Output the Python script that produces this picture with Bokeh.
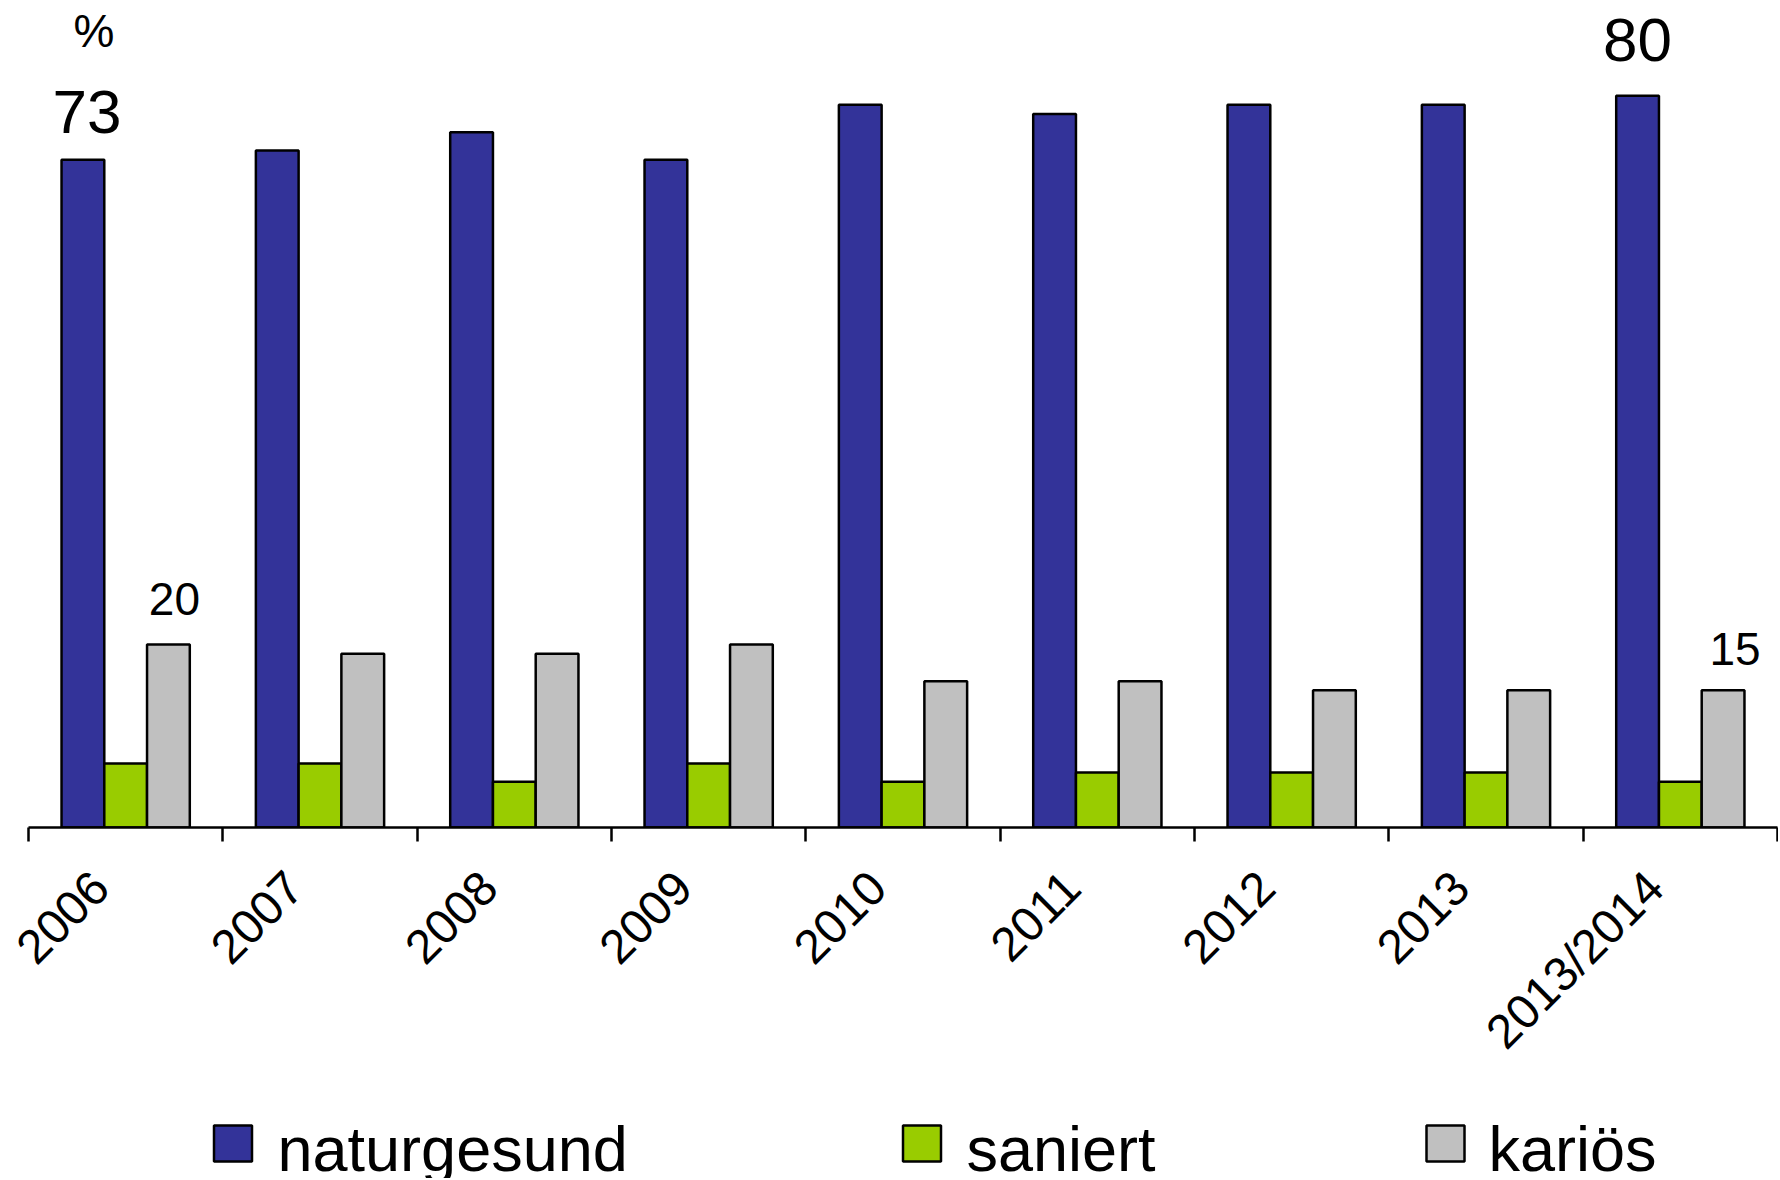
import math
from bokeh.plotting import figure
from bokeh.models import Range1d, LinearAxis, FixedTicker, CustomJSTickFormatter, Label
from bokeh.layouts import column
from bokeh.embed import file_html
from bokeh.resources import INLINE
from bokeh.core.properties import value

# ---- data ----
categories = ["2006", "2007", "2008", "2009", "2010", "2011", "2012", "2013", "2013/2014"]
naturgesund = [73, 74, 76, 73, 79, 78, 79, 79, 80]
saniert = [7, 7, 5, 7, 5, 6, 6, 6, 5]
karioes = [20, 19, 19, 20, 16, 16, 15, 15, 15]
series_names = ["naturgesund", "saniert", "kariös"]
colors = ["#333399", "#99CC00", "#C0C0C0"]
unit_label = "%"

FONT = "Liberation Sans"
W = 1778
BL, BR = 28, 1
n = len(categories)

p = figure(width=W, height=1095, x_range=Range1d(0, n), y_range=Range1d(0, 90.4),
           output_backend="svg", toolbar_location=None,
           x_axis_location=None, y_axis_location=None,
           min_border_left=BL, min_border_right=BR, min_border_top=0, min_border_bottom=268)
p.outline_line_color = None
p.background_fill_color = "white"
p.border_fill_color = "white"
p.xgrid.visible = False
p.ygrid.visible = False

bw = 0.22
centers = [i + 0.5 for i in range(n)]
for k, (vals, col) in enumerate(zip([naturgesund, saniert, karioes], colors)):
    off = (k - 1) * bw
    p.vbar(x=[c + off for c in centers], top=vals, bottom=0, width=bw,
           fill_color=col, line_color="black", line_width=2.5)

label_shift = 0.13
ax = LinearAxis(
    ticker=FixedTicker(ticks=[c - label_shift for c in centers], minor_ticks=list(range(n + 1))),
    formatter=CustomJSTickFormatter(args=dict(labels=categories),
                                    code="return labels[Math.round(tick - 0.5)];"),
    major_tick_line_color=None, major_tick_out=0, major_tick_in=0,
    minor_tick_out=14, minor_tick_in=0, minor_tick_line_color="black", minor_tick_line_width=2.5,
    axis_line_color="black", axis_line_width=2.5,
    major_label_orientation=math.pi / 4, major_label_text_font_size="48px",
    major_label_text_font=FONT, major_label_standoff=38, major_label_text_color="black")
p.add_layout(ax, "below")

def lab(x, y, text, size, xo, yo):
    p.add_layout(Label(x=x, y=y, text=text, x_offset=xo, y_offset=yo,
                       text_align="center", text_baseline="alphabetic",
                       text_font_size=size, text_font=FONT, text_color="black"))

lab(centers[0] - bw, naturgesund[0], str(naturgesund[0]), "62px", 4, 48)
lab(centers[0] - bw, naturgesund[0], unit_label, "46px", 11, 129)
lab(centers[0] + bw, karioes[0], str(karioes[0]), "46px", 6, 46)
lab(centers[-1] - bw, naturgesund[-1], str(naturgesund[-1]), "62px", 0, 56)
lab(centers[-1] + bw, karioes[-1], str(karioes[-1]), "46px", 12, 41)

# ---- legend strip (x in page pixels) ----
LH = 83
lg = figure(width=W, height=LH, x_range=Range1d(BL, W - BR), y_range=Range1d(0, LH),
            output_backend="svg", toolbar_location=None,
            x_axis_location=None, y_axis_location=None,
            min_border_left=BL, min_border_right=BR, min_border_top=0, min_border_bottom=0)
lg.outline_line_color = None
lg.xgrid.visible = False
lg.ygrid.visible = False
sw_x = [232.5, 921.5, 1445]
tx = [277, 966, 1488]
lg.rect(x=sw_x, y=35, width=38, height=36, fill_color=colors,
        line_color="black", line_width=2.5)
lg.text(x=tx, y=30, text=series_names, text_font_size="63px",
        text_baseline="alphabetic", text_align="left", text_font=value(FONT), text_color="black")

layout = column(p, lg)
open("out.html", "w").write(file_html(layout, INLINE))
